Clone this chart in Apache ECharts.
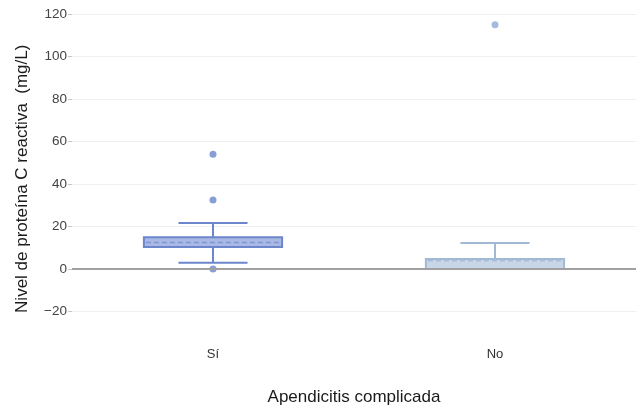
<!DOCTYPE html>
<html>
<head>
<meta charset="utf-8">
<script src="https://cdn.jsdelivr.net/npm/echarts@6/dist/echarts.min.js"></script>
<style>
  html, body { margin: 0; padding: 0; background: #fff; }
  #chart { width: 636px; height: 411px; }
</style>
</head>
<body>
<div id="chart"></div>
<script>
// grupos y resumen de cada caja: [mín, Q1, mediana, Q3, máx]
var categories = ['Sí', 'No'];
var lowWhisker = [3, 0];
var q1 = [10.3, 0];
var medians = [12.5, 3.9];
var q3 = [15, 4.7];
var highWhisker = [21.7, 12.2];
// valores atípicos [grupo, valor]
var outliers = [[0, 54], [0, 32.5], [0, 0], [1, 115]];

var boxColors = [
    { border: '#6c86cc', fill: '#a9b9e4', dash: '#7f95d3' },
    { border: '#a2b9d6', fill: '#c8d6e7', dash: '#a9bdd8' }
];
var dotColors = ['#6c86cc', '#8eaad6'];

var boxData = categories.map(function (c, i) {
    return [i, lowWhisker[i], q1[i], medians[i], q3[i], highWhisker[i]];
});

var chart = echarts.init(document.getElementById('chart'));

function renderBox(params, api) {
    var idx = api.value(0);
    var bw = api.size([1, 0])[0];
    var boxW = bw * 0.49;
    var capW = bw * 0.245;
    var x = api.coord([idx, 0])[0];
    var yLow = api.coord([idx, api.value(1)])[1];
    var yQ1 = api.coord([idx, api.value(2)])[1];
    var yMed = api.coord([idx, api.value(3)])[1];
    var yQ3 = api.coord([idx, api.value(4)])[1];
    var yHigh = api.coord([idx, api.value(5)])[1];
    var col = boxColors[idx];
    var lineStyle = { stroke: col.border, lineWidth: 2 };
    return {
        type: 'group',
        children: [
            { type: 'line', shape: { x1: x, y1: yQ3, x2: x, y2: yHigh }, style: lineStyle },
            { type: 'line', shape: { x1: x, y1: yQ1, x2: x, y2: yLow }, style: lineStyle },
            { type: 'line', shape: { x1: x - capW / 2, y1: yHigh, x2: x + capW / 2, y2: yHigh }, style: lineStyle },
            { type: 'line', shape: { x1: x - capW / 2, y1: yLow, x2: x + capW / 2, y2: yLow }, style: lineStyle },
            {
                type: 'rect',
                shape: { x: x - boxW / 2, y: yQ3, width: boxW, height: yQ1 - yQ3 },
                style: { fill: col.fill, stroke: col.border, lineWidth: 2 }
            },
            {
                type: 'line',
                shape: { x1: x - boxW / 2 + 2, y1: yMed, x2: x + boxW / 2 - 2, y2: yMed },
                style: { stroke: col.dash, lineWidth: 1.5, lineDash: [5, 3] }
            }
        ]
    };
}

chart.setOption({
    animation: false,
    textStyle: { fontFamily: 'Liberation Sans, Arial, sans-serif' },
    grid: { left: 72, right: -8, top: 14, bottom: 99.5 },
    xAxis: {
        type: 'category',
        data: categories,
        name: 'Apendicitis complicada',
        nameLocation: 'middle',
        nameGap: 77,
        nameTextStyle: { fontSize: 17, color: '#1a1a1a' },
        axisLine: { show: false, onZero: false },
        axisTick: { show: false },
        axisLabel: { margin: 36, fontSize: 13, color: '#333' },
        splitLine: { show: false }
    },
    yAxis: {
        type: 'value',
        min: -20,
        max: 120,
        interval: 20,
        name: 'Nivel de proteína C reactiva  (mg/L)',
        nameLocation: 'middle',
        nameRotate: 90,
        nameGap: 41,
        nameTextStyle: { fontSize: 17, color: '#1a1a1a', padding: [0, 32, 0, 0] },
        axisLine: { show: false },
        axisTick: { show: true, length: 4, lineStyle: { color: '#c8c8c8' } },
        axisLabel: {
            margin: 5,
            fontSize: 13.5,
            color: '#444',
            formatter: function (v) { return String(v).replace('-', '\u2212'); }
        },
        splitLine: { lineStyle: { color: '#efefef' } }
    },
    series: [
        {
            type: 'custom',
            renderItem: renderBox,
            encode: { x: 0, y: [1, 2, 3, 4, 5] },
            data: boxData,
            z: 3,
            markLine: {
                silent: true,
                symbol: 'none',
                label: { show: false },
                lineStyle: { color: '#a0a0a0', width: 2, type: 'solid' },
                data: [{ yAxis: 0 }]
            }
        },
        {
            type: 'scatter',
            data: outliers,
            symbolSize: 7,
            z: 4,
            itemStyle: {
                color: function (p) { return dotColors[p.value[0]]; }
            }
        }
    ]
});
</script>
</body>
</html>
